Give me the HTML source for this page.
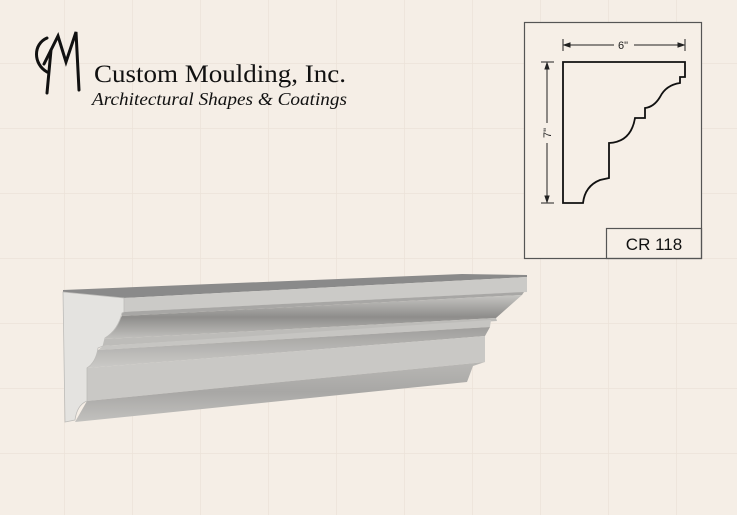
<!DOCTYPE html>
<html><head><meta charset="utf-8"><style>
html,body{margin:0;padding:0;background:#f5eee6;}
svg{display:block}
</style></head><body>
<svg width="737" height="515" viewBox="0 0 737 515" xmlns="http://www.w3.org/2000/svg">
<defs>
<pattern id="g" width="68" height="65" patternUnits="userSpaceOnUse" x="-4" y="-2">
<path d="M0 0H68M0 0V65" stroke="#ebe2d8" stroke-width="1.5" fill="none"/>
</pattern>
<linearGradient id="cv" x1="0" y1="0" x2="0" y2="1"><stop offset="0" stop-color="#c6c5c2"/><stop offset="0.5" stop-color="#8e8d8b"/><stop offset="1" stop-color="#c2c1be"/></linearGradient>
<linearGradient id="cv2" x1="0" y1="0" x2="0" y2="1"><stop offset="0" stop-color="#9f9e9c"/><stop offset="1" stop-color="#cbcac7"/></linearGradient>
<linearGradient id="cv3" x1="0" y1="0" x2="0" y2="1"><stop offset="0" stop-color="#b8b7b4"/><stop offset="0.5" stop-color="#a8a7a5"/><stop offset="1" stop-color="#c2c1be"/></linearGradient>
</defs>
<rect width="737" height="515" fill="#f5eee6"/>
<rect width="737" height="515" fill="url(#g)"/>

<g fill="none" stroke="#111" stroke-width="3" stroke-linecap="round">
<path d="M47 38 C33 44 33 64 47 72"/>
<path d="M44 64 L58 36 L66 62 L76 32 L79 90"/>
<path d="M51 50 L47 93"/>
</g>
<text x="94" y="82" font-family="Liberation Serif, serif" font-size="25" fill="#111" textLength="252" lengthAdjust="spacingAndGlyphs">Custom Moulding, Inc.</text>
<text x="92" y="105" font-family="Liberation Serif, serif" font-style="italic" font-size="18" fill="#111" textLength="255" lengthAdjust="spacingAndGlyphs">Architectural Shapes &amp; Coatings</text>

<polygon points="63,290 462,274 527,275 527,277 124,298 63,293" fill="#8a8a8a"/>
<polygon points="124,298 527,277 527,292 124,312" fill="#cbcac7"/>
<polygon points="122,312 524,292 522,295 122,316" fill="#a8a7a5"/>
<polygon points="122,316 522,295 496,318 105,339" fill="url(#cv)"/>
<polygon points="105,339 496,318 497,321 103,346" fill="#bdbcb9"/>
<polygon points="103,346 491,320 490,327 98,350" fill="#c6c5c2"/>
<polygon points="98,350 490,327 485,336 87,368" fill="url(#cv2)"/>
<polygon points="87,368 485,336 485,362 87,401" fill="#c9c8c5"/>
<polygon points="87,401 485,362 473,366 467,382 75,422" fill="url(#cv3)"/>
<path d="M63,292 L124,298 L124,312 L122,313 Q118,330 105,338 L103,346 L98,348 Q96,362 87,368 L87,401 Q77,405 75,420 L65,422 Z" fill="#e4e3e0" stroke="#bdbcb9" stroke-width="0.8"/>

<rect x="524.5" y="22.5" width="177" height="236" fill="#f6efe7" stroke="#555" stroke-width="1.2"/>
<rect x="606.5" y="228.5" width="95" height="30" fill="none" stroke="#555" stroke-width="1.2"/>
<text x="654" y="250" text-anchor="middle" font-family="Liberation Sans, sans-serif" font-size="17" fill="#111">CR 118</text>
<path d="M563,62 L685,62 L685,77 L680,77 L680,83 Q666,85 660,97 Q654,107 645,108 L645,118 L635,118 Q631,142 609,143 L609,178 L600,180 Q585,186 583,203 L563,203 Z" fill="none" stroke="#111" stroke-width="1.8"/>
<g stroke="#222" stroke-width="1" fill="#222">
<line x1="563" y1="39" x2="563" y2="51"/><line x1="685" y1="39" x2="685" y2="51"/>
<line x1="564" y1="45" x2="614" y2="45"/><line x1="634" y1="45" x2="684" y2="45"/>
<polygon points="564,45 570,43 570,47"/><polygon points="684,45 678,43 678,47"/>
<line x1="541" y1="62" x2="554" y2="62"/><line x1="541" y1="203" x2="554" y2="203"/>
<line x1="547" y1="63" x2="547" y2="123"/><line x1="547" y1="143" x2="547" y2="202"/>
<polygon points="547,63 545,69 549,69"/><polygon points="547,202 545,196 549,196"/>
</g>
<text x="623" y="49" text-anchor="middle" font-family="Liberation Sans, sans-serif" font-size="11" fill="#222">6"</text>
<text transform="translate(551,133) rotate(-90)" text-anchor="middle" font-family="Liberation Sans, sans-serif" font-size="11" fill="#222">7"</text>
</svg>
</body></html>
